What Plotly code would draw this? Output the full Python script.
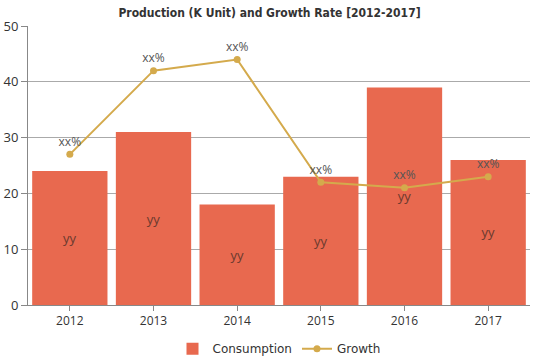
import plotly.graph_objects as go

years = ["2012", "2013", "2014", "2015", "2016", "2017"]
consumption = [24, 31, 18, 23, 39, 26]
growth = [27, 42, 44, 22, 21, 23]
bar_labels = ["yy"] * 6
line_labels = ["xx%"] * 6

fig = go.Figure()
fig.add_trace(go.Bar(
    x=years, y=consumption, name="Consumption",
    marker=dict(color="#E8694F", line=dict(width=0)),
    text=bar_labels, textposition="inside", insidetextanchor="middle",
    textfont=dict(color="#6b3a2e", size=13, family="Open Sans"),
))
fig.add_trace(go.Scatter(
    x=years, y=growth, name="Growth", mode="lines+markers+text",
    line=dict(color="#D4AA4C", width=2),
    marker=dict(color="#D4AA4C", size=7),
    text=line_labels, textposition="top center",
    textfont=dict(color="#555555", size=12, family="Open Sans"),
))
fig.update_layout(
    width=539, height=359,
    margin=dict(l=28, r=9, t=26, b=54, autoexpand=False),
    paper_bgcolor="white", plot_bgcolor="white",
    title=dict(text="<b>Production (K Unit) and Growth Rate [2012-2017]</b>",
               x=0.5, xanchor="center", y=0.975, yanchor="top",
               font=dict(family="DejaVu Sans Condensed", size=12, color="#333333")),
    bargap=0.1,
    showlegend=True,
    legend=dict(orientation="h", x=0.5, xanchor="center", y=-0.105, yanchor="top",
                font=dict(family="DejaVu Sans", size=12, color="#333333")),
    font=dict(family="Open Sans", size=12, color="#333333"),
)
fig.update_yaxes(range=[0, 50], dtick=10, showgrid=True, gridcolor="#aaaaaa",
                 showline=True, linecolor="#888888", ticks="outside", ticklen=6,
                 tickcolor="#888888", zeroline=False, automargin=False,
                 tickfont=dict(size=13, color="#333333"))
fig.update_xaxes(showline=True, linecolor="#888888", ticks="outside", ticklen=5,
                 tickcolor="#888888", automargin=False,
                 tickfont=dict(size=12, color="#333333"))
fig.write_html("out.html", config={"displayModeBar": False},
               post_script="document.body.style.margin='0px';document.body.style.overflow='hidden';")
